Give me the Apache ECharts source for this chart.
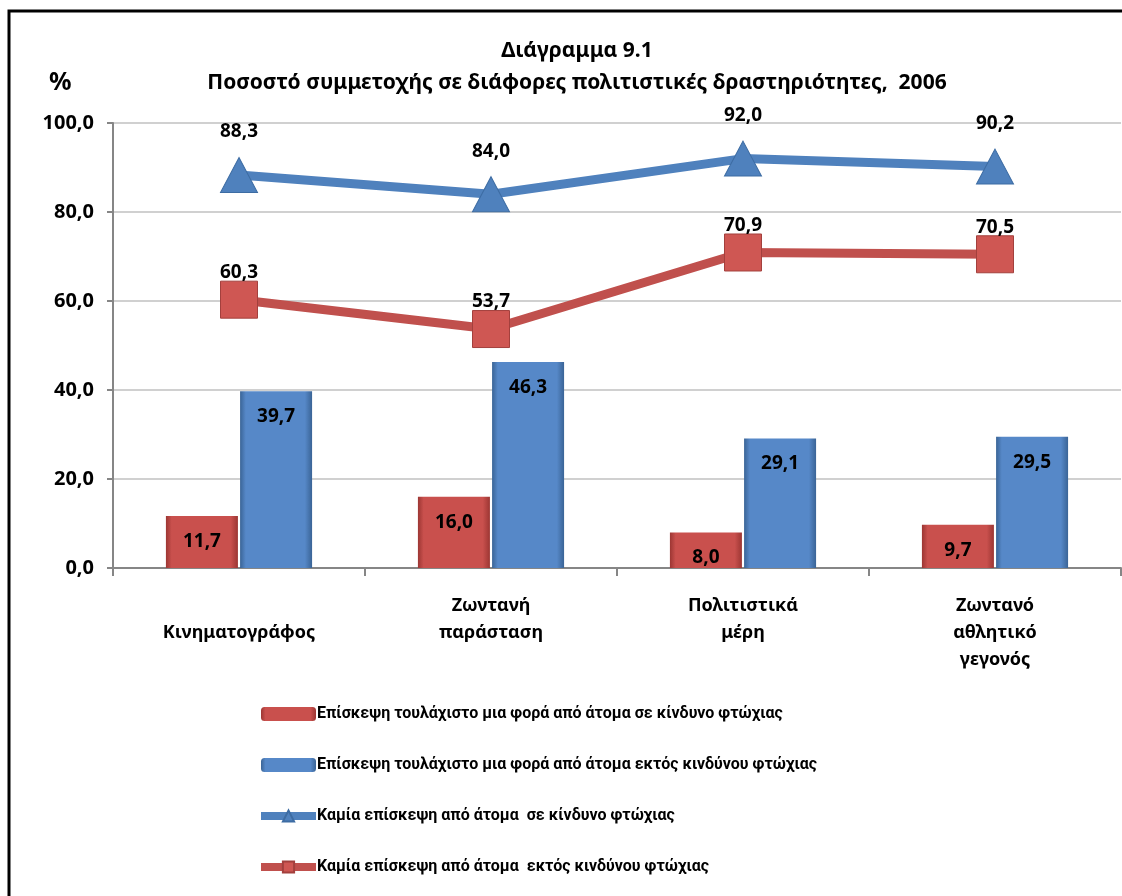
<!DOCTYPE html>
<html>
<head>
<meta charset="utf-8">
<script src="https://cdn.jsdelivr.net/npm/echarts@6/dist/echarts.min.js"></script>
<style>
  html, body { margin: 0; padding: 0; background: #fff; overflow: hidden; }
  #main { width: 1122px; height: 896px; }
</style>
</head>
<body>
<div id="main"></div>
<script>
// κατηγορίες
var categories = ['\nΚινηματογράφος', 'Ζωντανή\nπαράσταση', 'Πολιτιστικά\nμέρη', 'Ζωντανό\nαθλητικό\nγεγονός'];
var visitRisk = [11.7, 16.0, 8.0, 9.7];
var visitNoRisk = [39.7, 46.3, 29.1, 29.5];
var noVisitRisk = [88.3, 84.0, 92.0, 90.2];
var noVisitNoRisk = [60.3, 53.7, 70.9, 70.5];
var seriesNames = [
    'Επίσκεψη τουλάχιστο μια φορά από άτομα σε κίνδυνο φτώχιας',
    'Επίσκεψη τουλάχιστο μια φορά από άτομα εκτός κινδύνου φτώχιας',
    'Καμία επίσκεψη από άτομα  σε κίνδυνο φτώχιας',
    'Καμία επίσκεψη από άτομα  εκτός κινδύνου φτώχιας'
];

var font = '"Noto Sans", sans-serif';
var narrow = 'Roboto, "Noto Sans", sans-serif';
var fmt = function (p) {
    return p.value.toFixed(1).replace('.', ',');
};
// σκιαση για τις μπαρες
var barGrad = function (dark, mid) {
    return new echarts.graphic.LinearGradient(0, 0, 1, 0, [
        { offset: 0, color: dark },
        { offset: 0.08, color: mid },
        { offset: 0.9, color: mid },
        { offset: 1, color: dark }
    ]);
};

var myChart = echarts.init(document.getElementById('main'));
var option = {
    animation: false,
    backgroundColor: '#fff',
    title: {
        text: 'Διάγραμμα 9.1\nΠοσοστό συμμετοχής σε διάφορες πολιτιστικές δραστηριότητες,  2006',
        left: 572,
        textAlign: 'center',
        top: 30,
        textStyle: { fontFamily: font, fontSize: 21, fontWeight: 'bold', color: '#000', lineHeight: 32 }
    },
    graphic: [
        // πλαισιο (μονο αριστερα και πανω φαινεται)
        {
            type: 'polyline',
            shape: { points: [[9, 896], [9, 11], [1122, 11]] },
            style: { fill: 'none', stroke: '#000', lineWidth: 3 }
        },
        {
            type: 'text',
            left: 49,
            top: 70,
            style: { text: '%', font: 'bold 25px "Noto Sans", sans-serif', fill: '#000' }
        }
    ],
    legend: {
        orient: 'vertical',
        left: 252,
        top: 701,
        itemWidth: 55,
        itemHeight: 14,
        itemGap: 35,
        textStyle: { fontFamily: narrow, fontSize: 16, fontWeight: 'bold', color: '#000', padding: [0, 0, 0, -4] },
        data: [
            { name: seriesNames[0] },
            { name: seriesNames[1] },
            { name: seriesNames[2], itemStyle: { color: '#4f81bd' }, lineStyle: { color: '#4f81bd', width: 8 } },
            { name: seriesNames[3], itemStyle: { color: '#cf5753' }, lineStyle: { color: '#c0504d', width: 8 } }
        ]
    },
    grid: { left: 113, right: 1, top: 123, bottom: 328 },
    xAxis: {
        type: 'category',
        data: categories,
        axisLine: { lineStyle: { color: '#868686', width: 2 } },
        axisTick: { show: true, length: 8, lineStyle: { color: '#868686', width: 2 } },
        axisLabel: { fontFamily: font, fontSize: 18, fontWeight: 'bold', color: '#000', lineHeight: 27, margin: 24 }
    },
    yAxis: {
        type: 'value',
        min: 0,
        max: 100,
        interval: 20,
        axisLine: { show: true, lineStyle: { color: '#868686', width: 2 } },
        axisTick: { show: true, length: 6, lineStyle: { color: '#868686', width: 2 } },
        splitLine: { lineStyle: { color: '#d0d0d0', width: 2 } },
        axisLabel: {
            fontFamily: font, fontSize: 20, fontWeight: 'bold', color: '#000', margin: 19,
            formatter: function (v) { return v.toFixed(1).replace('.', ','); }
        }
    },
    series: [
        {
            name: seriesNames[0],
            type: 'bar',
            data: visitRisk,
            barWidth: 72,
            barGap: '3%',
            itemStyle: { color: barGrad('#9c3633', '#c9504d') },
            label: { show: true, position: 'insideTop', distance: 16, formatter: fmt, fontFamily: font, fontSize: 19, fontWeight: 'bold', color: '#000' }
        },
        {
            name: seriesNames[1],
            type: 'bar',
            data: visitNoRisk,
            barWidth: 72,
            barGap: '3%',
            itemStyle: { color: barGrad('#3a6496', '#5688c8') },
            label: { show: true, position: 'insideTop', distance: 16, formatter: fmt, fontFamily: font, fontSize: 19, fontWeight: 'bold', color: '#000' }
        },
        {
            name: seriesNames[2],
            type: 'line',
            data: noVisitRisk,
            symbol: 'triangle',
            symbolSize: [37, 35],
            lineStyle: { color: '#4f81bd', width: 9 },
            itemStyle: { color: '#4f81bd', borderColor: '#3d6ca3', borderWidth: 1 },
            label: { show: true, position: 'inside', offset: [0, -43], formatter: fmt, fontFamily: font, fontSize: 19, fontWeight: 'bold', color: '#000' },
            z: 3
        },
        {
            name: seriesNames[3],
            type: 'line',
            data: noVisitNoRisk,
            symbol: 'rect',
            symbolSize: 37,
            lineStyle: { color: '#c0504d', width: 9 },
            itemStyle: { color: '#cf5753', borderColor: '#a3403d', borderWidth: 1 },
            label: { show: true, position: 'inside', offset: [0, -27], formatter: fmt, fontFamily: font, fontSize: 19, fontWeight: 'bold', color: '#000' },
            z: 4
        }
    ]
};
myChart.setOption(option);
</script>
</body>
</html>
